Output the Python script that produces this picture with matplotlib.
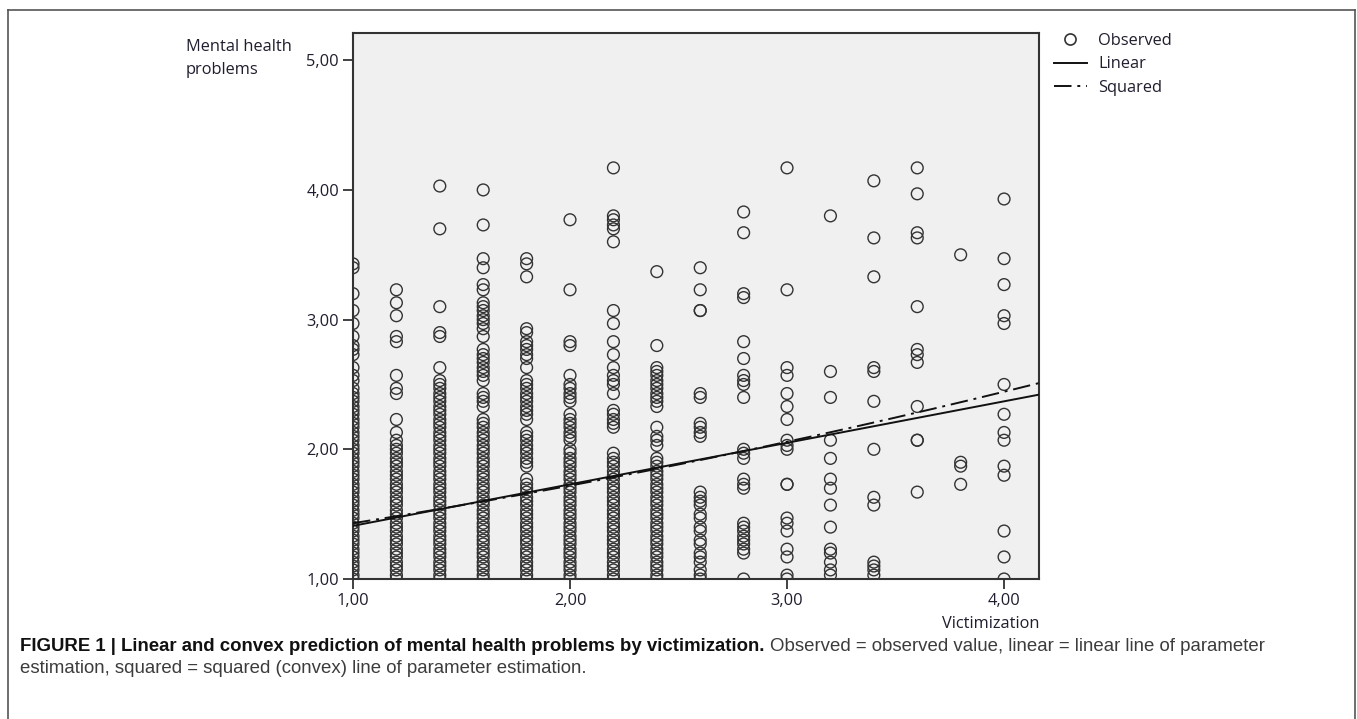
import numpy as np
import matplotlib.pyplot as plt
from matplotlib.lines import Line2D

# grid of possible scale scores (steps of 1/30)
grid = [1.00, 1.03, 1.07, 1.10, 1.13, 1.17, 1.20, 1.23, 1.27, 1.30,
        1.33, 1.37, 1.40, 1.43, 1.47, 1.50, 1.53, 1.57, 1.60, 1.63,
        1.67, 1.70, 1.73, 1.77, 1.80, 1.83, 1.87, 1.90, 1.93, 1.97,
        2.00, 2.03, 2.07, 2.10, 2.13, 2.17, 2.20, 2.23, 2.27, 2.30,
        2.33, 2.37, 2.40, 2.43, 2.47, 2.50]

victimization = [1.0, 1.2, 1.4, 1.6, 1.8, 2.0, 2.2, 2.4, 2.6, 2.8,
                 3.0, 3.2, 3.4, 3.6, 3.8, 4.0]

mh_10 = grid[:45] + [2.53, 2.57, 2.63, 2.73, 2.77, 2.80, 2.87, 2.97, 3.07, 3.20, 3.40, 3.43]
mh_12 = grid[:33] + [2.13, 2.23, 2.43, 2.47, 2.57, 2.83, 2.87, 3.03, 3.13, 3.23]
mh_14 = grid[:46] + [2.53, 2.63, 2.87, 2.90, 3.10, 3.70, 4.03]
mh_16 = grid[:38] + [2.33, 2.37, 2.40, 2.43, 2.53, 2.57, 2.60, 2.63, 2.67, 2.70,
                     2.73, 2.77, 2.87, 2.93, 2.97, 3.00, 3.03, 3.07, 3.10, 3.13,
                     3.23, 3.27, 3.40, 3.47, 3.73, 4.00]
mh_18 = grid[:24] + [1.87, 1.90, 1.93, 1.97, 2.00, 2.03, 2.07, 2.10, 2.13, 2.23,
                     2.27, 2.30, 2.33, 2.37, 2.40, 2.43, 2.47, 2.50, 2.53, 2.63,
                     2.70, 2.73, 2.77, 2.80, 2.83, 2.90, 2.93, 3.33, 3.43, 3.47]
mh_20 = grid[:31] + [2.07, 2.10, 2.13, 2.17, 2.20, 2.23, 2.27, 2.37, 2.40, 2.43,
                     2.47, 2.50, 2.57, 2.80, 2.83, 3.23, 3.77]
mh_22 = grid[:30] + [2.17, 2.20, 2.23, 2.27, 2.30, 2.43, 2.50, 2.53, 2.57, 2.63,
                     2.73, 2.83, 2.97, 3.07, 3.60, 3.70, 3.73, 3.77, 3.80, 4.17]
mh_24 = grid[:29] + [2.03, 2.07, 2.10, 2.17, 2.33, 2.37, 2.40, 2.43, 2.47, 2.50,
                     2.53, 2.57, 2.60, 2.63, 2.80, 3.37]
mh_26 = [1.00, 1.03, 1.07, 1.13, 1.17, 1.20, 1.27, 1.30, 1.37, 1.40, 1.47, 1.50,
         1.57, 1.60, 1.63, 1.67, 2.10, 2.13, 2.17, 2.20, 2.40, 2.43, 3.07, 3.07,
         3.23, 3.40]
mh_28 = [1.00, 1.20, 1.23, 1.27, 1.30, 1.33, 1.37, 1.40, 1.43, 1.70, 1.73, 1.77,
         1.93, 1.97, 2.00, 2.40, 2.50, 2.53, 2.57, 2.70, 2.83, 3.17, 3.20, 3.67, 3.83]
mh_30 = [1.00, 1.03, 1.17, 1.23, 1.37, 1.43, 1.47, 1.73, 1.73, 2.00, 2.03, 2.07,
         2.23, 2.33, 2.43, 2.57, 2.63, 3.23, 4.17]
mh_32 = [1.03, 1.07, 1.13, 1.20, 1.23, 1.40, 1.57, 1.70, 1.77, 1.93, 2.07, 2.40,
         2.60, 3.80]
mh_34 = [1.03, 1.07, 1.10, 1.13, 1.57, 1.63, 2.00, 2.37, 2.60, 2.63, 3.33, 3.63, 4.07]
mh_36 = [1.67, 2.07, 2.07, 2.33, 2.67, 2.73, 2.77, 3.10, 3.63, 3.67, 3.97, 4.17]
mh_38 = [1.73, 1.87, 1.90, 3.50]
mh_40 = [1.00, 1.17, 1.37, 1.80, 1.87, 2.07, 2.13, 2.27, 2.50, 2.97, 3.03, 3.27,
         3.47, 3.93]

observed = [mh_10, mh_12, mh_14, mh_16, mh_18, mh_20, mh_22, mh_24,
            mh_26, mh_28, mh_30, mh_32, mh_34, mh_36, mh_38, mh_40]

# fitted curves: intercept, slope (, squared term)
linear_coef = [1.09, 0.32]
squared_coef = [1.188, 0.218, 0.024]

xticks = [1, 2, 3, 4]
xtick_labels = ["1,00", "2,00", "3,00", "4,00"]
yticks = [1, 2, 3, 4, 5]
ytick_labels = ["1,00", "2,00", "3,00", "4,00", "5,00"]

W, H = 1357, 719
txt = "#1e1e2e"
fs = 11.8
plt.rcParams['font.family'] = ['Open Sans', 'DejaVu Sans']

fig = plt.figure(figsize=(W / 100, H / 100), dpi=100)
ax = fig.add_axes([353 / W, 140 / H, 686 / W, 546 / H])
ax.set_facecolor("#f0f0f0")

xs, ys = [], []
for v, col in zip(victimization, observed):
    xs += [v] * len(col)
    ys += col
ax.scatter(xs, ys, s=72, facecolors="none", edgecolors="#333333", linewidths=1.0, zorder=2)

xx = np.linspace(1.0, 4.17, 200)
ax.plot(xx, linear_coef[0] + linear_coef[1] * xx, color="#111111", lw=1.4, zorder=3)
ax.plot(xx, squared_coef[0] + squared_coef[1] * xx + squared_coef[2] * xx ** 2,
        color="#111111", lw=1.4, dashes=(9, 3, 1.5, 3), zorder=3)

ax.set_xlim(1.0, 4.161)
ax.set_ylim(1.0, 5.21)
ax.set_xticks(xticks, xtick_labels)
ax.set_yticks(yticks, ytick_labels)
ax.tick_params(direction="out", length=7, width=1.3, color="#333333",
               labelsize=fs, labelcolor=txt, pad=3)
for s in ax.spines.values():
    s.set_color("#333333")
    s.set_linewidth(1.5)

ax.text(1.0, -0.068, "Victimization", transform=ax.transAxes, ha="right", va="top",
        fontsize=fs, color=txt)
fig.text(186 / W, 1 - 39 / H, "Mental health\nproblems", ha="left", va="top",
         fontsize=fs, color=txt, linespacing=1.62)

handles = [
    Line2D([], [], ls="none", marker="o", mfc="none", mec="#333333", ms=8, mew=1.2),
    Line2D([], [], color="#111111", lw=1.4),
    Line2D([], [], color="#111111", lw=1.4, dashes=(9, 3, 1.5, 3)),
]
ax.legend(handles, ["Observed", "Linear", "Squared"], loc="upper left",
          bbox_to_anchor=(1054 / W, 1 - 33 / H), bbox_transform=fig.transFigure,
          frameon=False, fontsize=fs, labelcolor=txt, handlelength=2.0,
          handletextpad=0.7, labelspacing=0.45, borderpad=0, borderaxespad=0)

# open frame around the figure + caption
frame = dict(color="#555555", lw=1.2, transform=fig.transFigure)
fig.add_artist(Line2D([8 / W, 1355 / W], [1 - 10 / H, 1 - 10 / H], **frame))
fig.add_artist(Line2D([8 / W, 8 / W], [0, 1 - 10 / H], **frame))
fig.add_artist(Line2D([1355 / W, 1355 / W], [0, 1 - 10 / H], **frame))

cap = dict(fontsize=13.4, family=["Liberation Sans", "DejaVu Sans"], va="baseline")
t1 = fig.text(20 / W, 1 - 651 / H,
              "FIGURE 1 | Linear and convex prediction of mental health problems by victimization.",
              weight="bold", color="#111111", **cap)
fig.canvas.draw()
bb = t1.get_window_extent()
fig.text((bb.x1 + 5) / W, 1 - 651 / H,
         "Observed = observed value, linear = linear line of parameter",
         color="#3c3c3c", **cap)
fig.text(20 / W, 1 - 673 / H,
         "estimation, squared = squared (convex) line of parameter estimation.",
         color="#3c3c3c", **cap)

fig.savefig("out.png", dpi=100)
